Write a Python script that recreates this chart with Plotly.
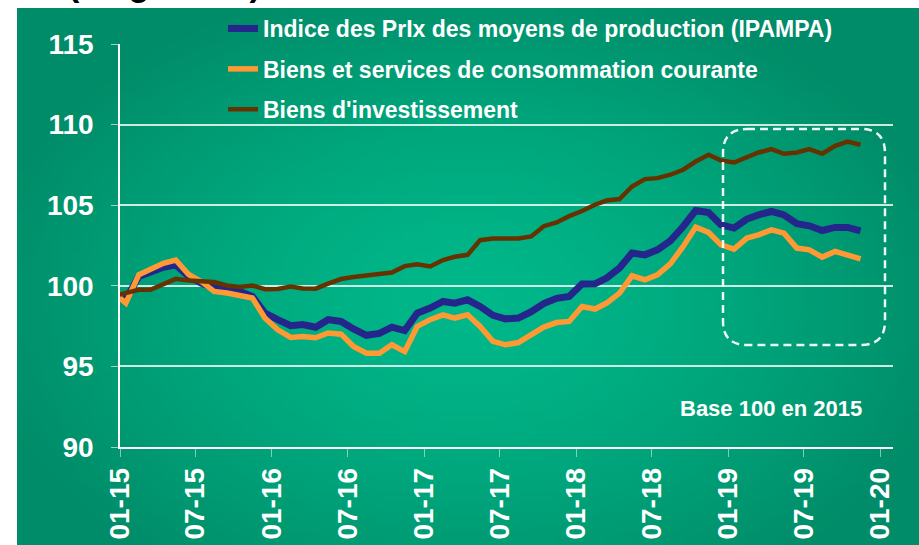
import base64, struct, zlib
import plotly.graph_objects as go

# ---------------- data ----------------
start_year, start_month, n_points = 2014, 12, 60
months = []
y, m = start_year, start_month
for _ in range(n_points):
    months.append(f"{y}-{m:02d}-15")
    m += 1
    if m > 12:
        m, y = 1, y + 1

ipampa = [99.5, 99.15, 100.58, 100.9, 101.15, 101.3, 100.58, 100.17, 99.86, 99.75, 99.65, 99.34,
          98.31, 97.9, 97.53, 97.6, 97.43, 97.9, 97.79, 97.32, 96.93, 97.05, 97.43, 97.22,
          98.3, 98.62, 99.03, 98.92, 99.13, 98.72, 98.17, 97.95, 98.0, 98.4, 98.9, 99.22,
          99.34, 100.11, 100.12, 100.48, 101.1, 102.03, 101.92, 102.23, 102.79, 103.68, 104.67, 104.55,
          103.78, 103.58, 104.14, 104.4, 104.61, 104.4, 103.85, 103.72, 103.43, 103.62, 103.62, 103.41]

conso = [99.6, 98.93, 100.68, 101.0, 101.4, 101.6, 100.7, 100.27, 99.65, 99.55, 99.44, 99.24,
         98.0, 97.27, 96.8, 96.86, 96.78, 97.07, 97.0, 96.23, 95.82, 95.82, 96.34, 95.92,
         97.48, 97.9, 98.2, 98.0, 98.2, 97.48, 96.55, 96.34, 96.48, 96.96, 97.44, 97.72,
         97.79, 98.72, 98.56, 98.93, 99.55, 100.62, 100.37, 100.68, 101.36, 102.44, 103.64, 103.31,
         102.54, 102.28, 102.96, 103.16, 103.47, 103.27, 102.34, 102.23, 101.78, 102.13, 101.92, 101.67]

invest = [99.35, 99.55, 99.75, 99.75, 100.1, 100.43, 100.33, 100.31, 100.23, 100.02, 99.92, 100.02,
          99.79, 99.8, 99.95, 99.83, 99.82, 100.13, 100.42, 100.54, 100.63, 100.73, 100.82, 101.22,
          101.33, 101.2, 101.6, 101.8, 101.92, 102.83, 102.93, 102.93, 102.94, 103.06, 103.7, 103.93,
          104.32, 104.64, 105.03, 105.29, 105.38, 106.16, 106.62, 106.68, 106.89, 107.2, 107.71, 108.13,
          107.77, 107.65, 107.98, 108.27, 108.48, 108.19, 108.27, 108.48, 108.19, 108.68, 108.95, 108.75]

series_names = ["Indice des PrIx des moyens de production (IPAMPA)",
                "Biens et services de consommation courante",
                "Biens d'investissement"]

tick_vals = ["2015-01-01", "2015-07-01", "2016-01-01", "2016-07-01", "2017-01-01", "2017-07-01",
             "2018-01-01", "2018-07-01", "2019-01-01", "2019-07-01", "2020-01-01"]
tick_text = ["01-15", "07-15", "01-16", "07-16", "01-17", "07-17",
             "01-18", "07-18", "01-19", "07-19", "01-20"]
y_ticks = [90, 95, 100, 105, 110, 115]

# ---------------- styling ----------------
W, H = 919, 545
ML, MR, MT, MB = 120, 26, 44, 98
PW, PH = W - ML - MR, H - MT - MB
FONT = "Arial, 'Liberation Sans', sans-serif"


def px2paper(px, py):
    return (px - ML) / PW, (H - MB - py) / PH


# green radial gradient background as a small generated PNG
def gradient_png(w, h):
    cx, cy, rx, ry = 0.50, 0.55, 0.55, 0.62
    c0, c1 = (0, 184, 138), (0, 140, 104)
    raw = bytearray()
    for j in range(h):
        raw.append(0)
        for i in range(w):
            dx = ((i + 0.5) / w - cx) / rx
            dy = ((j + 0.5) / h - cy) / ry
            t = min(1.0, (dx * dx + dy * dy) ** 0.5) ** 1.4
            raw.extend(int(round(c0[k] + (c1[k] - c0[k]) * t)) for k in range(3))

    def chunk(tag, data):
        return struct.pack(">I", len(data)) + tag + data + struct.pack(">I", zlib.crc32(tag + data) & 0xffffffff)

    png = b"\x89PNG\r\n\x1a\n" + chunk(b"IHDR", struct.pack(">IIBBBBB", w, h, 8, 2, 0, 0, 0))
    png += chunk(b"IDAT", zlib.compress(bytes(raw), 9)) + chunk(b"IEND", b"")
    return "data:image/png;base64," + base64.b64encode(png).decode()


fig = go.Figure()
colors = ["#25268C", "#FF9933", "#663300"]
widths = [7, 5.5, 4.5]
for name, vals, col, wd in zip(series_names, [ipampa, conso, invest], colors, widths):
    fig.add_trace(go.Scatter(x=months, y=vals, mode="lines", name=name, legendgroup=name,
                             line=dict(color=col, width=wd)))

bx0, by0 = px2paper(17, 8)
bx1, by1 = px2paper(W, H)
fig.add_layout_image(dict(source=gradient_png(90, 54), xref="paper", yref="paper",
                          x=bx0, y=by0, sizex=bx1 - bx0, sizey=by0 - by1,
                          xanchor="left", yanchor="top", sizing="stretch", layer="below"))

# rounded dashed box
L, R, T, B, r = 723, 885, 129, 345, 24
pts = [("M", L + r, T), ("L", R - r, T), ("Q", R, T, R, T + r), ("L", R, B - r), ("Q", R, B, R - r, B),
       ("L", L + r, B), ("Q", L, B, L, B - r), ("L", L, T + r), ("Q", L, T, L + r, T)]
path = ""
for p in pts:
    coords = []
    for k in range(1, len(p), 2):
        xx, yy = px2paper(p[k], p[k + 1])
        coords.append(f"{xx:.5f},{yy:.5f}")
    path += p[0] + " ".join(coords) + " "
path += "Z"
fig.add_shape(type="path", path=path, xref="paper", yref="paper",
              line=dict(color="rgba(255,255,255,0.92)", width=2.5, dash="8px,5px"))

ax, ay = px2paper(771, 408)
fig.add_annotation(x=ax, y=ay, xref="paper", yref="paper", xanchor="center", yanchor="middle",
                   text="Base 100 en 2015", showarrow=False,
                   font=dict(family=FONT, size=22, color="white", weight="bold"))
tx, ty = px2paper(66, -16)
fig.add_annotation(x=tx, y=ty, xref="paper", yref="paper", xanchor="left", yanchor="middle",
                   text="(en général)", showarrow=False,
                   font=dict(family=FONT, size=34, color="black", weight="bold"))

lx, ly = px2paper(223, 7)
fig.update_layout(
    width=W, height=H, margin=dict(l=ML, r=MR, t=MT, b=MB, autoexpand=False),
    paper_bgcolor="white", plot_bgcolor="rgba(0,0,0,0)",
    font=dict(family=FONT, color="white"),
    showlegend=True,
    legend=dict(x=lx, y=ly, xanchor="left", yanchor="top", bgcolor="rgba(0,0,0,0)",
                font=dict(family=FONT, size=23, color="white", weight="bold"),
                traceorder="grouped", tracegroupgap=7.5),
    xaxis=dict(type="date", range=["2015-01-01", "2020-02-01"], tickmode="array",
               tickvals=tick_vals, ticktext=tick_text, tickangle=-90, automargin=False,
               tickfont=dict(family=FONT, size=28, color="white", weight="bold"),
               showgrid=False, showline=True, linecolor="white", linewidth=1.5,
               ticks="outside", ticklen=8, tickcolor="rgba(255,255,255,0.5)", tickwidth=1,
               zeroline=False),
    yaxis=dict(range=[90, 115], tickmode="array", tickvals=y_ticks, automargin=False,
               tickfont=dict(family=FONT, size=28, color="white", weight="bold"),
               showgrid=True, gridcolor="rgba(255,255,255,0.8)", gridwidth=1.5,
               showline=True, linecolor="white", linewidth=1.5,
               ticks="outside", ticklen=7, tickcolor="rgba(255,255,255,0.6)", tickwidth=1,
               ticklabelstandoff=12, zeroline=False),
)

fig.write_html("out.html", config={"displayModeBar": False},
               post_script="document.body.style.margin='0px';")
